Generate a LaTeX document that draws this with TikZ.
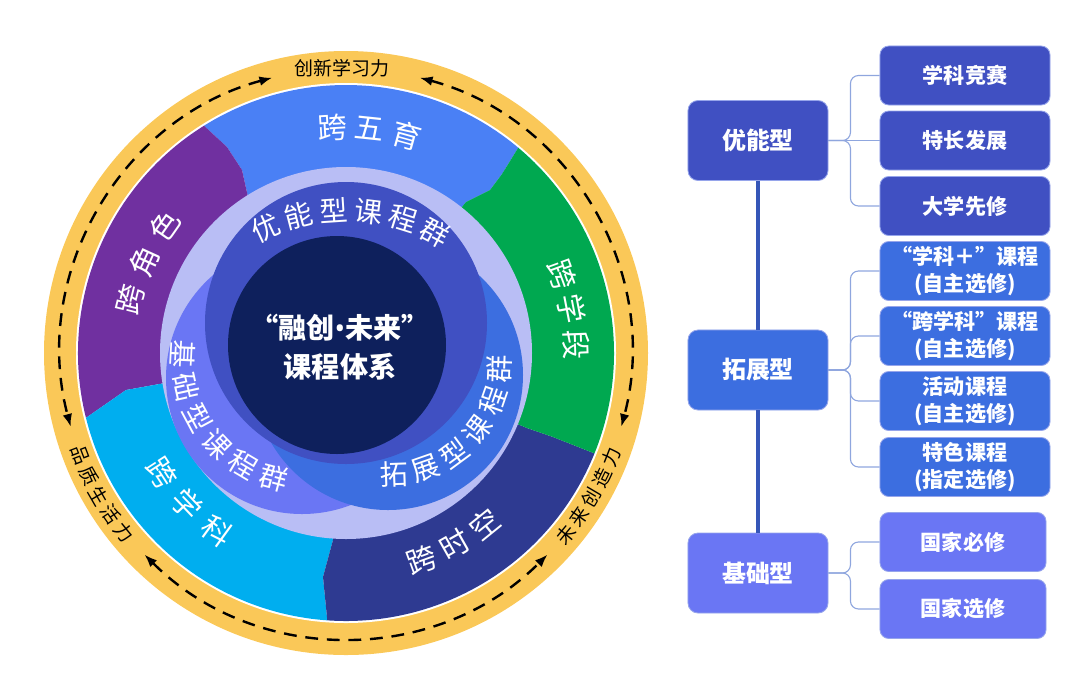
\documentclass[tikz,border=0pt]{standalone}
\usepackage{fontspec}
\setmainfont{Noto Sans CJK SC}
\newfontfamily\latinfont{Noto Sans}
\usetikzlibrary{arrows.meta}
\definecolor{ringyellow}{RGB}{250,200,88}
\definecolor{wuyu}{RGB}{74,128,245}
\definecolor{xueduan}{RGB}{0,168,80}
\definecolor{shikong}{RGB}{46,58,145}
\definecolor{xueke}{RGB}{0,174,239}
\definecolor{juese}{RGB}{112,48,160}
\definecolor{lavender}{RGB}{185,190,245}
\definecolor{youneng}{RGB}{64,80,194}
\definecolor{tuozhan}{RGB}{60,110,224}
\definecolor{jichu}{RGB}{106,118,244}
\definecolor{corenavy}{RGB}{14,32,92}
\definecolor{trunkblue}{RGB}{53,86,184}
\definecolor{bracegray}{RGB}{143,166,222}
\definecolor{boxline}{RGB}{150,165,235}
\begin{document}
\begin{tikzpicture}[x=0.025cm,y=0.025cm,>={Latex[length=0.32cm,width=0.24cm]},
  ringtxt/.style={inner sep=0pt,font=\fontsize{13.5}{16}\selectfont},
  sectxt/.style={inner sep=0pt,text=white,font=\fontsize{21}{23}\selectfont},
  grptxt/.style={inner sep=0pt,text=white,font=\fontsize{20}{22}\selectfont},
  flow/.style={<->,black,line width=0.06cm,dash pattern=on 0.32cm off 0.22cm},
  typebox/.style={draw=boxline,line width=0.6pt,rounded corners=0.25cm,minimum width=3.5cm,minimum height=2cm,text=white,font=\bfseries\fontsize{17}{20}\selectfont},
  subbox/.style={draw=boxline,line width=0.6pt,rounded corners=0.22cm,minimum width=4.25cm,minimum height=1.475cm,text=white,align=center,font=\bfseries\fontsize{15}{19}\selectfont},
  trunk/.style={draw=trunkblue,line width=0.1cm},
  brace/.style={draw=bracegray,line width=0.8pt,rounded corners=0.2cm}]
  \useasboundingbox (0,0) rectangle (1080,-687);
  \begin{scope}[shift={(346,-353)}]
    \fill[ringyellow] (0,0) circle[radius=302];
    \fill[white] (0,0) circle[radius=270];
    \fill[wuyu] (0,0) -- (120,151) -- (144,163) -- (156,179) -- (50:268) arc[start angle=50,end angle=122,radius=268] -- (-119,206) -- (-104,183) -- (-98,156) -- cycle;
    \fill[juese] (0,0) -- (-98,156) -- (-104,183) -- (-119,206) -- (122:268) arc[start angle=122,end angle=194,radius=268] -- (-220,-37) -- (-181,-30) -- cycle;
    \fill[xueke] (0,0) -- (-181,-30) -- (-220,-37) -- (194:268) arc[start angle=194,end angle=266,radius=268] -- (-23,-224) -- (-13,-187) -- cycle;
    \fill[shikong] (0,0) -- (-13,-187) -- (-23,-224) -- (266:268) arc[start angle=266,end angle=338,radius=268] -- (207,-84) -- (181,-75) -- cycle;
    \fill[xueduan] (0,0) -- (181,-75) -- (207,-84) -- (338:268) arc[start angle=338,end angle=410,radius=268] -- (156,179) -- (144,163) -- (120,151) -- cycle;
    \fill[lavender] (0,0) circle[radius=186];
    \fill[jichu] (-44,-25) circle[radius=136];
    \fill[tuozhan] (42,-22) circle[radius=135];
    \fill[youneng] (0,30) circle[radius=141];
    \fill[corenavy] (-9,8) circle[radius=109];
    \node[align=center,text=white,font=\bfseries\fontsize{20}{28}\selectfont] (core) at (-6,6) {“融创{\latinfont\bfseries •}未来”\\课程体系};
    \node[sectxt,rotate=3.5] (wy1) at (93.5:226) {跨};
    \node[sectxt,rotate=-6] (wy2) at (84:226) {五};
    \node[sectxt,rotate=-15.5] (wy3) at (74.5:226) {育};
    \node[sectxt,rotate=-70] (xd1) at (20:230) {跨};
    \node[sectxt,rotate=-79] (xd2) at (11:230) {学};
    \node[sectxt,rotate=-88] (xd3) at (2:230) {段};
    \node[sectxt,rotate=76] (js1) at (166:222) {跨};
    \node[sectxt,rotate=65.5] (js2) at (155.5:222) {角};
    \node[sectxt,rotate=55] (js3) at (145:222) {色};
    \node[sectxt,rotate=-57] (xk1) at (213:220) {跨};
    \node[sectxt,rotate=-46.5] (xk2) at (223.5:220) {学};
    \node[sectxt,rotate=-36] (xk3) at (234:220) {科};
    \node[sectxt,rotate=20] (sk1) at (-70:220) {跨};
    \node[sectxt,rotate=29.5] (sk2) at (-60.5:220) {时};
    \node[sectxt,rotate=39] (sk3) at (-51:220) {空};
    \begin{scope}[shift={(0,-47)}]
      \node[grptxt,rotate=25] (yn1c) at (115:190) {优};
      \node[grptxt,rotate=14.4] (yn2c) at (104.4:190) {能};
      \node[grptxt,rotate=3.8] (yn3c) at (93.8:190) {型};
      \node[grptxt,rotate=-6.8] (yn4c) at (83.2:190) {课};
      \node[grptxt,rotate=-17.4] (yn5c) at (72.6:190) {程};
      \node[grptxt,rotate=-28] (yn6c) at (62:190) {群};
    \end{scope}
    \begin{scope}[shift={(-41,-7)}]
      \node[grptxt,rotate=267] (jc1c) at (177:122) {基};
      \node[grptxt,rotate=282.6] (jc2c) at (192.6:122) {础};
      \node[grptxt,rotate=298.2] (jc3c) at (208.2:122) {型};
      \node[grptxt,rotate=313.8] (jc4c) at (223.8:122) {课};
      \node[grptxt,rotate=329.4] (jc5c) at (239.4:122) {程};
      \node[grptxt,rotate=345] (jc6c) at (255:122) {群};
    \end{scope}
    \begin{scope}[shift={(44,-12)}]
      \node[grptxt,rotate=2] (tz1c) at (-88:109) {拓};
      \node[grptxt,rotate=19.2] (tz2c) at (-70.8:109) {展};
      \node[grptxt,rotate=36.4] (tz3c) at (-53.6:109) {型};
      \node[grptxt,rotate=53.6] (tz4c) at (-36.4:109) {课};
      \node[grptxt,rotate=70.8] (tz5c) at (-19.2:109) {程};
      \node[grptxt,rotate=88] (tz6c) at (-2:109) {群};
    \end{scope}
    \draw[flow] (105:285) arc[start angle=105,end angle=195,radius=285];
    \draw[flow] (75:285) arc[start angle=75,end angle=-15,radius=285];
    \draw[flow] (225:285) arc[start angle=225,end angle=315,radius=285];
    \node[ringtxt] (cx) at (-4,285) {创新学习力};
    \node[ringtxt,rotate=-69] (pz1) at (201:285) {品};
    \node[ringtxt,rotate=-64.5] (pz2) at (205.5:285) {质};
    \node[ringtxt,rotate=-60] (pz3) at (210:285) {生};
    \node[ringtxt,rotate=-55.5] (pz4) at (214.5:285) {活};
    \node[ringtxt,rotate=-51] (pz5) at (219:285) {力};
    \node[ringtxt,rotate=50.5] (wl1) at (-39.5:285) {未};
    \node[ringtxt,rotate=55] (wl2) at (-35:285) {来};
    \node[ringtxt,rotate=59.5] (wl3) at (-30.5:285) {创};
    \node[ringtxt,rotate=64] (wl4) at (-26:285) {造};
    \node[ringtxt,rotate=68.5] (wl5) at (-21.5:285) {力};
  \end{scope}
  \node[typebox,fill=youneng] (yn) at (758,-140.5) {优能型};
  \node[typebox,fill=tuozhan] (tz) at (758,-370) {拓展型};
  \node[typebox,fill=jichu] (jc) at (758,-573) {基础型};
  \node[subbox,fill=youneng] (yn1) at (965,-75.5) {学科竞赛};
  \node[subbox,fill=youneng] (yn2) at (965,-140.5) {特长发展};
  \node[subbox,fill=youneng] (yn3) at (965,-206) {大学先修};
  \node[subbox,fill=tuozhan] (tz1) at (965,-271) {“学科＋”课程\\(自主选修)};
  \node[subbox,fill=tuozhan] (tz2) at (965,-336) {“跨学科”课程\\(自主选修)};
  \node[subbox,fill=tuozhan] (tz3) at (965,-401) {活动课程\\(自主选修)};
  \node[subbox,fill=tuozhan] (tz4) at (965,-467) {特色课程\\(指定选修)};
  \node[subbox,fill=jichu,minimum width=4.15cm] (jc1) at (963,-542) {国家必修};
  \node[subbox,fill=jichu,minimum width=4.15cm] (jc2) at (963,-609) {国家选修};
  \draw[trunk] (yn.south) -- (tz.north);
  \draw[trunk] (tz.south) -- (jc.north);
  \draw[brace] (yn.east) -- ++(22,0) |- (yn1.west);
  \draw[brace] (yn.east) -- (yn2.west);
  \draw[brace] (yn.east) -- ++(22,0) |- (yn3.west);
  \draw[brace] (tz.east) -- ++(22,0) |- (tz1.west);
  \draw[brace] (tz.east) -- ++(22,0) |- (tz2.west);
  \draw[brace] (tz.east) -- ++(22,0) |- (tz3.west);
  \draw[brace] (tz.east) -- ++(22,0) |- (tz4.west);
  \draw[brace] (jc.east) -- ++(22,0) |- (jc1.west);
  \draw[brace] (jc.east) -- ++(22,0) |- (jc2.west);
\end{tikzpicture}
\end{document}
